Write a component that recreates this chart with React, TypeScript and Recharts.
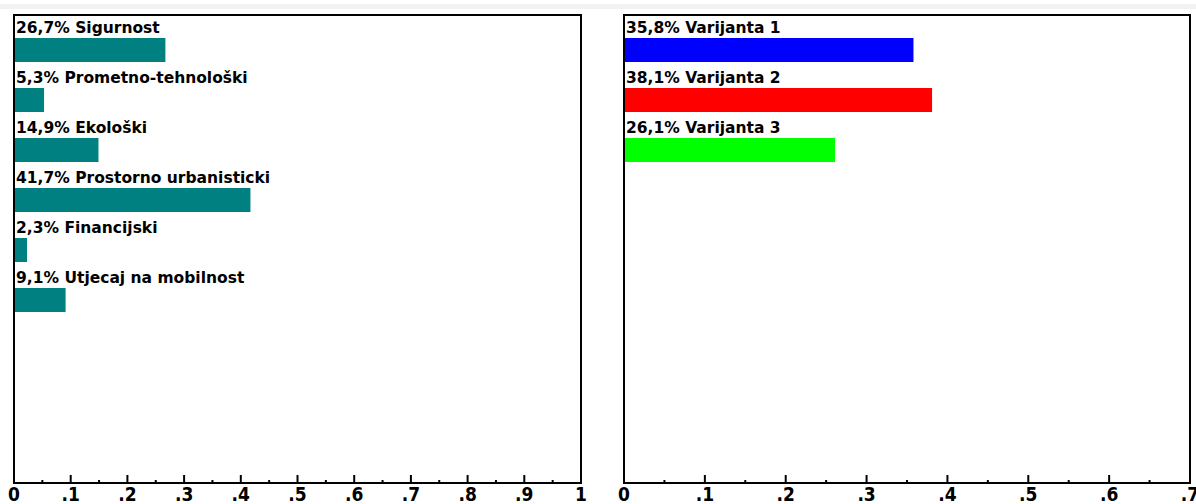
import React from "react"
import { BarChart, Bar, XAxis, YAxis, LabelList } from "recharts"

// criteria weights (left panel)
const criteria = ["Sigurnost", "Prometno-tehnološki", "Ekološki", "Prostorno urbanisticki", "Financijski", "Utjecaj na mobilnost"]
const criteriaWeights = [0.267, 0.053, 0.149, 0.417, 0.023, 0.091]

// variant scores (right panel)
const variants = ["Varijanta 1", "Varijanta 2", "Varijanta 3"]
const variantScores = [0.358, 0.381, 0.261]
const variantColors = ["#0000ff", "#ff0000", "#00ff00"]

const leftTicks = [0, 0.05, 0.1, 0.15, 0.2, 0.25, 0.3, 0.35, 0.4, 0.45, 0.5, 0.55, 0.6, 0.65, 0.7, 0.75, 0.8, 0.85, 0.9, 0.95, 1]
const rightTicks = [0, 0.05, 0.1, 0.15, 0.2, 0.25, 0.3, 0.35, 0.4, 0.45, 0.5, 0.55, 0.6, 0.65, 0.7]

const leftData = criteria.map((name, i) => ({ name, value: criteriaWeights[i], fill: "#008080" }))
const rightData = variants.map((name, i) => ({ name, value: variantScores[i], fill: variantColors[i] }))

const pct = (v: number) => (v * 100).toFixed(1).replace(".", ",") + "%"
const tickText = (v: number) => (v === 0 ? "0" : v === 1 ? "1" : "." + Math.round(v * 10))

const CHART_H = 504
const PLOT_TOP = 15
const AXIS_H = 21
const BAND = 50

function AxisTick(props: any) {
  const { x, y, payload } = props
  const v = payload.value as number
  const major = Math.round(v * 100) % 10 === 0
  return (
    <g>
      <line x1={x} x2={x} y1={y} y2={y - (major ? 8 : 3)} stroke="#000" strokeWidth={2} />
      {major && (
        <text x={x} y={y + 18} textAnchor="middle" fontFamily="'Liberation Sans Narrow', 'DejaVu Sans Condensed', sans-serif" fontWeight="bold" fontSize={19} fill="#000">
          {tickText(v)}
        </text>
      )}
    </g>
  )
}

function BarLabel(props: any) {
  const { x, y, value, index, names } = props
  return (
    <text x={x + 2} y={y - 5} fontFamily="'DejaVu Sans', sans-serif" fontWeight="bold" fontSize={15.5} fill="#000">
      {pct(value) + " " + names[index]}
    </text>
  )
}

function Panel({ data, names, ticks, max, left, width, ml, mr }: any) {
  const plotH = CHART_H - PLOT_TOP - AXIS_H
  const padBottom = plotH - 10 - data.length * BAND
  return (
    <div style={{ position: "absolute", left, top: 0 }}>
      <BarChart
        width={width}
        height={CHART_H}
        data={data}
        layout="vertical"
        margin={{ top: PLOT_TOP, right: mr, bottom: 0, left: ml }}
      >
        <XAxis
          type="number"
          domain={[0, max]}
          ticks={ticks}
          interval={0}
          height={AXIS_H}
          tickSize={0}
          tickMargin={0}
          tick={<AxisTick />}
          axisLine={{ stroke: "#000", strokeWidth: 2 }}
          tickLine={false}
        />
        <YAxis
          type="category"
          dataKey="name"
          width={0}
          tick={false}
          tickLine={false}
          padding={{ top: 10, bottom: padBottom }}
          axisLine={false}
        />
        <Bar dataKey="value" barSize={24} isAnimationActive={false}>
          <LabelList dataKey="value" content={<BarLabel names={names} />} />
        </Bar>
      </BarChart>
      {/* plot frame */}
      <div
        style={{
          position: "absolute",
          left: ml - 1,
          top: PLOT_TOP - 1,
          width: width - ml - mr + 2,
          height: plotH + 2,
          boxSizing: "border-box",
          border: "2px solid #000",
          pointerEvents: "none",
        }}
      />
    </div>
  )
}

export default function App() {
  return (
    <div style={{ position: "relative", width: 1196, height: 504, background: "#fff", overflow: "hidden" }}>
      <style>{"body{margin:0}"}</style>
      <div style={{ position: "absolute", left: 0, top: 4, width: 1196, height: 5, background: "#f2f2f2" }} />
      <Panel data={leftData} names={criteria} ticks={leftTicks} max={1} left={0} width={600} ml={14} mr={19} />
      <Panel data={rightData} names={variants} ticks={rightTicks} max={0.7} left={600} width={596} ml={24} mr={6} />
    </div>
  )
}
